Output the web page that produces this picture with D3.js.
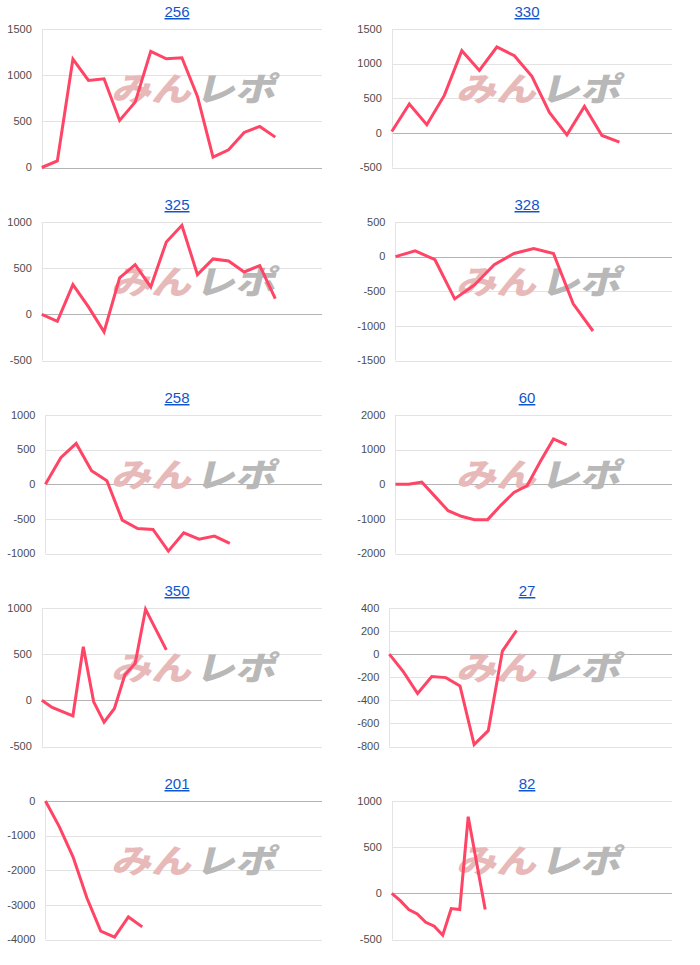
<!DOCTYPE html>
<meta charset="utf-8">
<style>
body{
	margin:0;
	background:#fff;
	font-family:Arial,"Liberation Sans",sans-serif;
}
</style>
<script src="https://cdn.jsdelivr.net/npm/d3@7"></script>
<body>
<svg id="chart" width="700" height="965"></svg>
<script>

// machine numbers (panel titles), left to right, top to bottom
var titles = ["256","330","325","328","258","60","350","27","201","82"]

// medal difference per slot, null = no point at that slot
var v256 = [0, 72, 1175, 943, 961, 510, 708, 1258, 1178, 1189, 770, 112, 192, 380, 445, 329]
var v330 = [20, 416, 117, 541, 1187, 902, 1240, 1114, 816, 295, -28, 382, -37, -134]
var v325 = [0, -75, 322, 80, -190, 394, 538, 297, 784, 964, 430, 600, 578, 459, 527, 171]
var v328 = [0, 84, -45, -610, -409, -117, 45, 117, 45, -682, -1074]
var v258 = [0, 383, 590, 195, 51, -518, -639, -653, -966, -701, -793, -749, -855]
var v60  = [0, 0, 62, -350, -763, -926, -1022, -1022, -609, -235, -43, 657, 1309, 1137]
var v350 = [0, -77, null, -168, 580, -16, -236, -88, 273, 400, 986, null, 546]
var v27  = [0, -154, -341, -194, -203, -275, -783, -663, 27, 205]
var v201 = [0, -739, -1621, -2801, -3760, -3933, -3348, -3635]
var v82  = [0, -79, -176, -223, -313, -356, -453, -165, -176, 830, null, -176]
var series = [v256, v330, v325, v328, v258, v60, v350, v27, v201, v82]

// y tick values per panel
var yTicks = [
	[0, 500, 1000, 1500],
	[-500, 0, 500, 1000, 1500],
	[-500, 0, 500, 1000],
	[-1500, -1000, -500, 0, 500],
	[-1000, -500, 0, 500, 1000],
	[-2000, -1000, 0, 1000, 2000],
	[-500, 0, 500, 1000],
	[-800, -600, -400, -200, 0, 200, 400],
	[-4000, -3000, -2000, -1000, 0],
	[-500, 0, 500, 1000]
]

// number of x slots on each panel's axis
var xSlots = [18, 16, 18, 14, 18, 21, 27, 20, 20, 33]

var svg = d3.select("#chart")

function drawPanel(i){
	var col = i % 2, row = Math.floor(i / 2)
	var colX = col * 350
	var top = 29 + row * 193
	var h = 138.5
	var g = svg.append("g")

	// labels first so we can measure them
	var labels = g.append("g")
		.attr("font-size", 11)
		.attr("fill", "#4d4d4d")
		.attr("text-anchor", "end")
	var lab = labels.selectAll("text").data(yTicks[i]).enter().append("text")
		.text(function(d){ return d })
	var maxW = 0
	lab.each(function(){ maxW = Math.max(maxW, this.getComputedTextLength()) })

	var left = colX + 17.3 + maxW
	var right = colX + 322
	var x = d3.scaleLinear().domain([0, xSlots[i]]).range([left, right])
	var ext = d3.extent(yTicks[i])
	var y = d3.scaleLinear().domain(ext).range([top + h, top])

	lab.attr("x", left - 10).attr("y", function(d){ return y(d) }).attr("dy", "0.35em")

	// grid
	g.insert("g", ":first-child").selectAll("line").data(yTicks[i]).enter().append("line")
		.attr("x1", left).attr("x2", right)
		.attr("y1", function(d){ return Math.round(y(d)) + 0.5 })
		.attr("y2", function(d){ return Math.round(y(d)) + 0.5 })
		.attr("stroke", function(d){ return d == 0 ? "#b3b3b3" : "#e3e3e3" })
	g.append("line")
		.attr("x1", Math.round(left) + 0.5).attr("x2", Math.round(left) + 0.5)
		.attr("y1", top).attr("y2", top + h)
		.attr("stroke", "#e3e3e3")

	// watermark
	var wx = col ? 458 : 113
	var wm = g.append("g")
		.attr("transform", "translate(" + wx + "," + (top + 72) + ") skewX(-14)")
		.attr("font-family", "'Noto Sans CJK JP'")
		.attr("font-weight", 900)
		.attr("font-size", 33)
	wm.append("text").attr("x", -2).attr("y", 0)
		.attr("textLength", 80).attr("lengthAdjust", "spacingAndGlyphs")
		.attr("fill", "#e8b9b9").text("みん")
	wm.append("text").attr("x", 82).attr("y", 0)
		.attr("textLength", 80).attr("lengthAdjust", "spacingAndGlyphs")
		.attr("fill", "#b8b8b8").text("レポ")

	// data line
	var pts = series[i].map(function(v, k){ return [k, v] })
		.filter(function(p){ return p[1] != null })
	var line = d3.line()
		.x(function(p){ return x(p[0]) })
		.y(function(p){ return y(p[1]) })
	g.append("path")
		.attr("d", line(pts))
		.attr("fill", "none")
		.attr("stroke", "#ff4466")
		.attr("stroke-width", 3)

	// title
	g.append("text")
		.attr("x", colX + 177)
		.attr("y", top - 12)
		.attr("text-anchor", "middle")
		.attr("font-size", 15)
		.attr("fill", "#1155cc")
		.attr("text-decoration", "underline")
		.text(titles[i])
}

for (var i = 0; i < titles.length; i++) drawPanel(i)

</script>
</body>
